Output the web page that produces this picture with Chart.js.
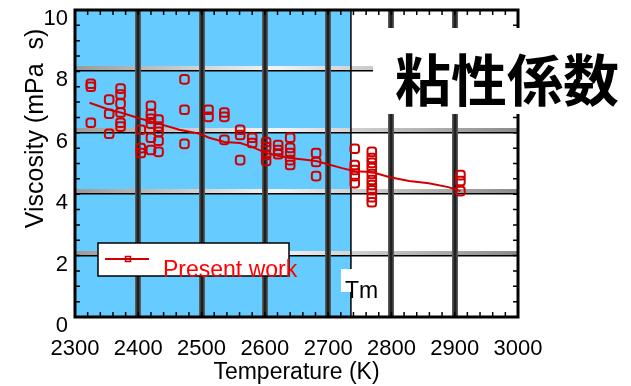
<!DOCTYPE html>
<html>
<head>
<meta charset="utf-8">
<script src="https://cdn.jsdelivr.net/npm/chart.js@4"></script>
<style>
  html, body { margin: 0; padding: 0; background: #fff; }
  #wrap { width: 631px; height: 386px; }
</style>
</head>
<body>
<div id="wrap"><canvas id="viscChart" width="631" height="386"></canvas></div>
<script>
// measured columns: temperature (K) and the viscosities read at that temperature (mPa s)
const measuredTemps = [2325, 2354, 2372, 2404, 2420, 2432, 2473, 2511, 2536, 2561, 2580, 2602, 2621, 2640, 2681, 2742, 2769, 2909];
const measuredVisc = [
  [7.6, 7.5, 6.33],
  [7.08, 6.62, 5.97],
  [7.44, 7.25, 6.95, 6.66, 6.33, 6.2],
  [6.1, 5.5, 5.34],
  [6.88, 6.62, 6.46, 6.3, 5.84, 5.44],
  [6.43, 6.2, 6.03, 5.74, 5.38],
  [7.74, 6.75, 5.64],
  [6.75, 6.52],
  [6.66, 6.52, 5.77],
  [6.1, 5.93, 5.11],
  [5.84, 5.67],
  [5.7, 5.54, 5.28, 5.08],
  [5.6, 5.44, 5.3],
  [5.84, 5.51, 5.34, 5.11, 4.95],
  [5.34, 5.05, 4.59],
  [5.48, 4.95, 4.79, 4.59, 4.36],
  [5.38, 5.18, 5.02, 4.85, 4.66, 4.46, 4.3, 4.13, 3.9, 3.74],
  [4.62, 4.43, 4.1]
];

// smoothed curve
const fitTemps = [2323, 2354, 2372, 2404, 2432, 2465, 2497, 2512, 2536, 2561, 2580, 2602, 2621, 2640, 2681, 2701, 2722, 2742, 2769, 2796, 2828, 2859, 2890, 2909];
const fitVisc = [6.98, 6.75, 6.66, 6.46, 6.3, 6.1, 5.97, 5.84, 5.7, 5.67, 5.54, 5.34, 5.25, 5.18, 5.08, 4.97, 4.85, 4.75, 4.72, 4.56, 4.43, 4.36, 4.23, 4.1];

const tmTemp = 2736;
const seriesLabel = 'Present work';
const titleText = '粘性係数';
const xTitle = 'Temperature (K)';
const yTitle = 'Viscosity (mPa  s)';

const textFamily = "'Liberation Sans', Arial, sans-serif";
const red = '#d00000';

const scatterPts = [];
measuredTemps.forEach((t, i) => {
  measuredVisc[i].forEach(v => scatterPts.push({x: t, y: v}));
});
const fitPts = fitTemps.map((t, i) => ({x: t, y: fitVisc[i]}));

const decor = {
  id: 'decor',
  beforeDatasetsDraw(chart) {
    const {ctx, chartArea: a, scales: {x, y}} = chart;
    ctx.save();
    // region below the melting point
    const xTm = x.getPixelForValue(tmTemp);
    ctx.fillStyle = '#66ccff';
    ctx.fillRect(a.left, a.top, xTm - a.left, a.bottom - a.top);

    // horizontal grid bars
    y.ticks.forEach(t => {
      if (t.value <= y.min || t.value >= y.max) return;
      const py = Math.round(y.getPixelForValue(t.value));
      const g = ctx.createLinearGradient(a.left, 0, a.right, 0);
      g.addColorStop(0, '#9a9a9a');
      g.addColorStop(0.45, '#f4f4f4');
      g.addColorStop(1, '#8a8a8a');
      ctx.fillStyle = g;
      ctx.fillRect(a.left, py - 5, a.right - a.left, 4);
      ctx.fillStyle = '#000';
      ctx.fillRect(a.left, py - 1, a.right - a.left, 1.5);
    });

    // vertical grid bars
    x.ticks.forEach(t => {
      if (t.value <= x.min || t.value >= x.max) return;
      const px = Math.round(x.getPixelForValue(t.value));
      const g = ctx.createLinearGradient(px - 3, 0, px + 3, 0);
      g.addColorStop(0, '#6a6a6a');
      g.addColorStop(0.5, '#111');
      g.addColorStop(1, '#6a6a6a');
      ctx.fillStyle = g;
      ctx.fillRect(px - 3, a.top, 6, a.bottom - a.top);
    });

    ctx.fillStyle = '#000';
    ctx.fillRect(xTm - 0.75, a.top, 1.5, a.bottom - a.top);

    // inner minor ticks
    ctx.strokeStyle = '#000';
    ctx.lineWidth = 1.5;
    ctx.beginPath();
    for (let v = x.min; v <= x.max; v += 20) {
      const px = x.getPixelForValue(v);
      ctx.moveTo(px, a.bottom); ctx.lineTo(px, a.bottom - 5);
      ctx.moveTo(px, a.top); ctx.lineTo(px, a.top + 5);
    }
    for (let v = y.min; v <= y.max; v += 0.5) {
      const py = y.getPixelForValue(v);
      ctx.moveTo(a.left, py); ctx.lineTo(a.left + 5, py);
      ctx.moveTo(a.right, py); ctx.lineTo(a.right - 5, py);
    }
    ctx.stroke();

    // frame
    ctx.lineWidth = 3;
    ctx.strokeRect(a.left, a.top, a.right - a.left, a.bottom - a.top);
    ctx.restore();
  },
  afterDraw(chart) {
    const {ctx, chartArea: a, scales: {x, y}} = chart;
    ctx.save();

    // legend
    const lx = a.left + 23, ly = a.top + 233;
    ctx.fillStyle = '#fff';
    ctx.fillRect(lx, ly, 191, 33);
    ctx.strokeStyle = '#000';
    ctx.lineWidth = 1.5;
    ctx.strokeRect(lx, ly, 191, 33);
    ctx.strokeStyle = red;
    ctx.lineWidth = 2;
    ctx.beginPath();
    ctx.moveTo(lx + 7, ly + 16);
    ctx.lineTo(lx + 51, ly + 16);
    ctx.stroke();
    ctx.lineWidth = 1.5;
    ctx.strokeRect(lx + 27.5, ly + 13.5, 5, 5);
    ctx.fillStyle = '#ff0000';
    ctx.font = '23px ' + textFamily;
    ctx.textBaseline = 'alphabetic';
    ctx.textAlign = 'left';
    ctx.fillText(seriesLabel, lx + 65, ly + 34);

    // Tm label
    const xTm = x.getPixelForValue(tmTemp);
    ctx.fillStyle = '#fff';
    ctx.fillRect(xTm - 10, a.top + 259, 20, 23);
    ctx.fillStyle = '#000';
    ctx.font = '23px ' + textFamily;
    ctx.fillText('Tm', xTm - 6, a.top + 288);

    // title box
    ctx.fillStyle = '#fff';
    ctx.fillRect(373, 28, 258, 86);
    ctx.fillStyle = '#000';
    ctx.font = 'bold 56px "Noto Sans CJK JP", "Noto Sans CJK SC", sans-serif';
    ctx.fillText(titleText, 395, 101);

    // y axis title
    ctx.translate(36, (a.top + a.bottom) / 2 - 35);
    ctx.rotate(-Math.PI / 2);
    ctx.textAlign = 'center';
    ctx.textBaseline = 'middle';
    ctx.font = '25px ' + textFamily;
    ctx.fillText(yTitle, 0, 0);
    ctx.restore();
  }
};

new Chart(document.getElementById('viscChart'), {
  type: 'scatter',
  data: {
    datasets: [
      {
        label: seriesLabel,
        type: 'line',
        data: fitPts,
        borderColor: red,
        borderWidth: 2,
        pointRadius: 0,
        fill: false,
        tension: 0
      },
      {
        label: 'measured',
        data: scatterPts,
        pointStyle: 'rectRounded',
        pointRadius: 5,
        borderColor: red,
        borderWidth: 2,
        backgroundColor: 'rgba(0,0,0,0)'
      }
    ]
  },
  options: {
    responsive: false,
    animation: false,
    devicePixelRatio: 1,
    layout: { padding: { top: 10, right: 113, left: 0, bottom: 0 } },
    plugins: {
      legend: { display: false },
      tooltip: { enabled: false }
    },
    scales: {
      x: {
        type: 'linear',
        min: 2300,
        max: 3000,
        grid: { display: false, drawTicks: false },
        border: { display: false },
        ticks: {
          stepSize: 100,
          color: '#000',
          padding: 19,
          maxRotation: 0,
          autoSkip: false,
          callback: v => String(v),
          font: { family: textFamily, size: 22 }
        },
        title: {
          display: true,
          text: xTitle,
          color: '#000',
          padding: 0,
          font: { family: textFamily, size: 23 }
        },
        afterFit(s) { s.height = 69; }
      },
      y: {
        min: 0,
        max: 10,
        grid: { display: false, drawTicks: false },
        border: { display: false },
        ticks: {
          stepSize: 2,
          color: '#000',
          padding: 7,
          labelOffset: 9,
          font: { family: textFamily, size: 22 }
        },
        afterFit(s) { s.width = 75; s.paddingTop = 0; s.paddingBottom = 0; }
      }
    }
  },
  plugins: [decor]
});
</script>
</body>
</html>
